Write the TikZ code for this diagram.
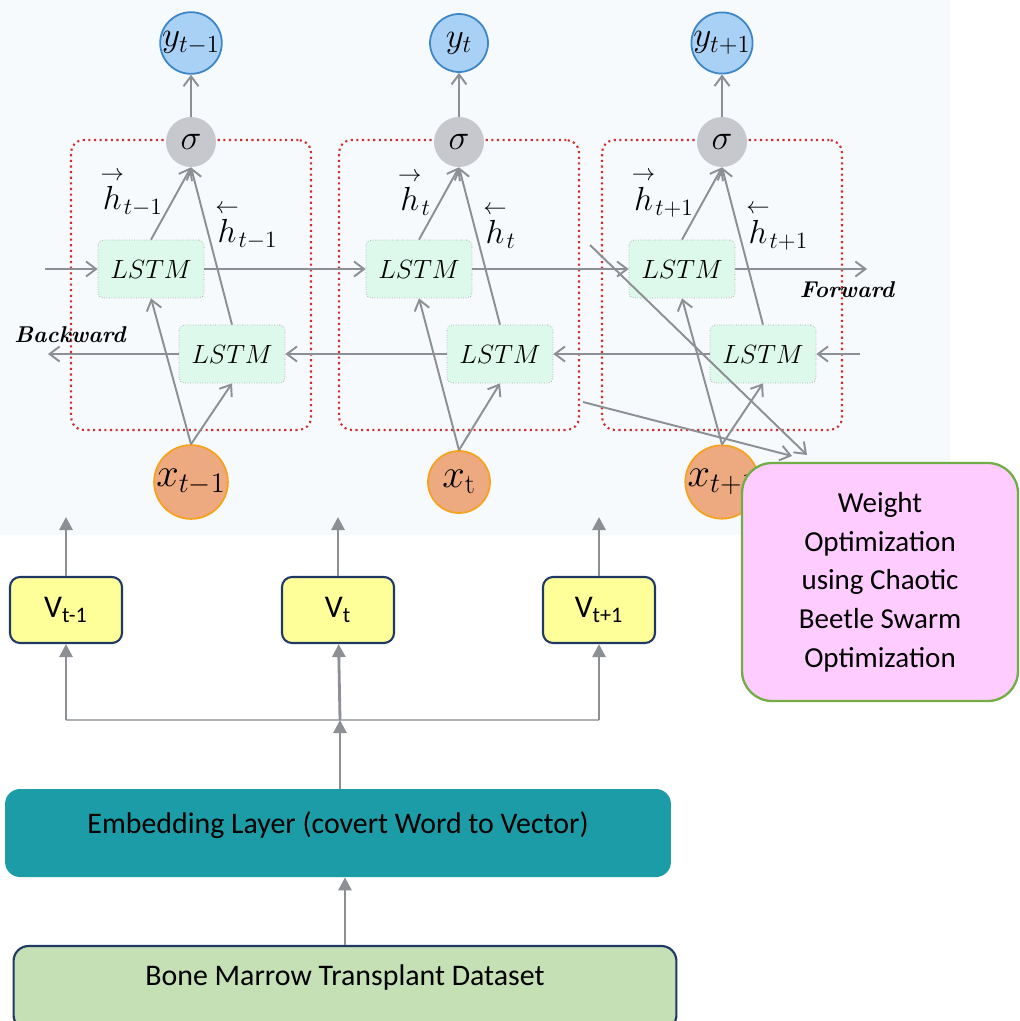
\RequirePackage{fix-cm}
\documentclass[tikz,border=0pt]{standalone}
\usepackage{fontspec}
\usepackage{amsmath}
\usetikzlibrary{arrows.meta}
\newfontfamily\cali{Carlito}
\definecolor{fond}{HTML}{F7FAFD}
\definecolor{ybleu}{HTML}{A9D0F5}
\definecolor{ytrait}{HTML}{3C85C6}
\definecolor{sgris}{HTML}{C6C8CE}
\definecolor{xorange}{HTML}{EDA97F}
\definecolor{xtrait}{HTML}{F5A31F}
\definecolor{lvert}{HTML}{DDF9EC}
\definecolor{rouge}{HTML}{CC3030}
\definecolor{fgris}{HTML}{8C8F93}
\definecolor{jaune}{HTML}{FFFF99}
\definecolor{marine}{HTML}{1F3864}
\definecolor{sarcelle}{HTML}{1B9CA6}
\definecolor{pomme}{HTML}{C5E0B4}
\definecolor{rose}{HTML}{FFCCFF}
\definecolor{herbe}{HTML}{70AD47}
\newcommand{\taille}[1]{\fontsize{#1}{#1}\selectfont}
\newcommand{\hfwd}{\overset{\rightarrow}{h}}
\newcommand{\hback}{\overset{\leftarrow}{h}}
% one BiLSTM column: name, x, subscript of y and h, subscript of x
\newcommand{\colonne}[4]{
	\node[cellbox] (c#1) at (#2,285) {};
	\node[ynode] (y#1) at (#2,43) {$y_{#3}$};
	\node[signode] (s#1) at (#2,142) {$\sigma$};
	\node[lstm] (f#1) at (#2-40,269) {$LSTM$};
	\node[lstm] (b#1) at (#2+41,354) {$LSTM$};
	\node[xnode] (x#1) at (#2,482) {$x_{#4}$};
	\node[hlab,anchor=east] (hf#1) at (#2-28,193) {$\hfwd_{#3}$};
	\node[hlab,anchor=west] (hb#1) at (#2+24,226) {$\hback_{#3}$};
	\draw[fleche] (s#1) -- (y#1);
	\draw[fleche] (f#1.north) -- (s#1.south);
	\draw[fleche] (b#1.north) -- (s#1.south);
	\draw[fleche] (x#1.north) -- (f#1.south);
	\draw[fleche] (x#1.north) -- (b#1.south);
}

\begin{document}
\begin{tikzpicture}[x=0.02cm,y=-0.02cm,
	fleche/.style={line width=1.1pt,fgris,-{Straight Barb[length=2mm,width=3mm]}},
	pleine/.style={line width=1.6pt,fgris,-{Triangle[length=2.6mm,width=2.6mm]}},
	branche/.style={line width=1.3pt,fgris!70},
	cellbox/.style={draw=rouge,line width=1.2pt,dotted,rounded corners=0.25cm,minimum width=4.8cm,minimum height=5.8cm},
	ynode/.style={circle,draw=ytrait,line width=1pt,fill=ybleu,minimum size=1.16cm,inner sep=0pt,font=\taille{20}},
	signode/.style={circle,fill=sgris,minimum size=1cm,inner sep=0pt,font=\taille{20}},
	xnode/.style={circle,draw=xtrait,line width=1pt,fill=xorange,minimum size=1.24cm,inner sep=0pt,font=\taille{23}},
	lstm/.style={draw=gray!70,densely dotted,fill=lvert,rounded corners=3pt,minimum width=2.12cm,minimum height=1.16cm,font=\taille{15}},
	hlab/.style={inner sep=0pt,font=\taille{19}},
	sens/.style={font=\taille{13}\bfseries\itshape},
	vbox/.style={draw=marine,line width=1.2pt,fill=jaune,rounded corners=0.2cm,minimum width=2.24cm,minimum height=1.32cm,font=\cali\taille{18}},
	optbox/.style={draw=herbe,line width=1.3pt,fill=rose,rounded corners=0.6cm,minimum width=5.52cm,minimum height=4.76cm,align=center,font=\cali\fontsize{16.5}{22}\selectfont},
	embox/.style={fill=sarcelle,rounded corners=0.3cm,minimum width=13.32cm,minimum height=1.76cm,text height=6pt,text depth=6pt,font=\cali\taille{17}},
	bonebox/.style={draw=marine,line width=1.2pt,fill=pomme,rounded corners=0.3cm,minimum width=13.26cm,minimum height=1.68cm,text height=6pt,text depth=9pt,font=\cali\taille{17}}]
	\useasboundingbox (0,0) rectangle (1019,1021);
	\fill[fond] (0,0) rectangle (950,535);

	\colonne{1}{191}{t-1}{t-1}
	\colonne{2}{459}{t}{\mathrm{t}}
	\colonne{3}{722}{t+1}{t+1}

	\coordinate (fin) at (45,269);
	\coordinate (fout) at (867,269);
	\coordinate (bin) at (860,354);
	\coordinate (bout) at (48,354);
	\draw[fleche] (fin) -- (f1);
	\draw[fleche] (f1) -- (f2);
	\draw[fleche] (f2) -- (f3);
	\draw[fleche] (f3) -- (fout);
	\draw[fleche] (bin) -- (b3);
	\draw[fleche] (b3) -- (b2);
	\draw[fleche] (b2) -- (b1);
	\draw[fleche] (b1) -- (bout);
	\node[sens] (bw) at (70,335) {Backward};
	\node[sens] (fw) at (847,290) {Forward};

	\coordinate (d1) at (590,245);
	\coordinate (d2) at (583,402);
	\coordinate (t1) at (807,455);
	\coordinate (t2) at (792,456);
	\draw[fleche] (d1) -- (t1);
	\draw[fleche] (d2) -- (t2);
	\node[optbox] (opt) at (880,582) {Weight\\Optimization\\using Chaotic\\Beetle Swarm\\Optimization};

	\node[vbox] (v1) at (66,610) {V\textsubscript{t-1}};
	\node[vbox] (v2) at (338,610) {V\textsubscript{t}};
	\node[vbox] (v3) at (599,610) {V\textsubscript{t+1}};
	\coordinate (u1) at (66,517);
	\coordinate (u2) at (338,517);
	\coordinate (u3) at (599,517);
	\draw[pleine] (v1) -- (u1);
	\draw[pleine] (v2) -- (u2);
	\draw[pleine] (v3) -- (u3);

	\node[embox] (emb) at (338,833) {Embedding Layer (covert Word to Vector)};
	\node[bonebox] (bone) at (345,988) {Bone Marrow Transplant Dataset};
	\coordinate (jn) at (340,720);
	\draw[branche] (jn -| v1) -- (jn -| v3);
	\draw[pleine] (emb.north -| jn) -- (jn);
	\draw[pleine] (jn -| v1) -- (v1);
	\draw[pleine] (jn) -- (v2);
	\draw[pleine] (jn -| v3) -- (v3);
	\draw[pleine] (bone.north) -- (bone.north |- emb.south);
\end{tikzpicture}
\end{document}
